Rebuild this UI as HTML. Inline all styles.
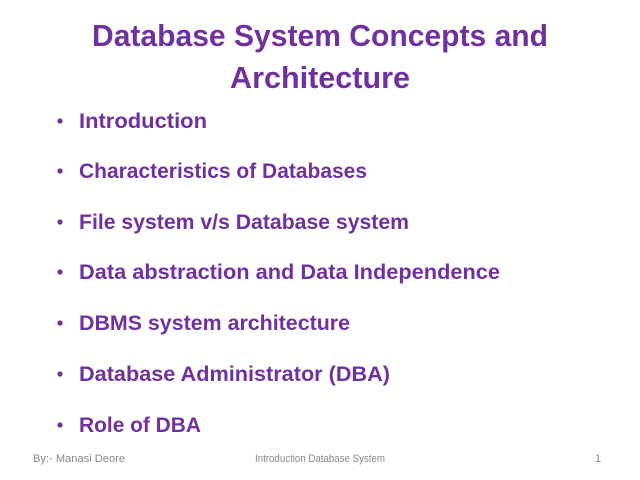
<!DOCTYPE html>
<html><head><style>
body{margin:0;background:#fff;}
svg{display:block;}
.t{font-family:"Liberation Sans",sans-serif;font-weight:bold;fill:#7030a0;}
.f{font-family:"Liberation Sans",sans-serif;fill:#898989;font-size:11px;}
</style></head><body>
<svg width="640" height="480" viewBox="0 0 640 480">
<text class="t" x="92" y="46" font-size="31" textLength="456" lengthAdjust="spacingAndGlyphs">Database System Concepts and</text>
<text class="t" x="230" y="88" font-size="31" textLength="180" lengthAdjust="spacingAndGlyphs">Architecture</text>
<g class="t" font-size="21">
<circle cx="60" cy="121" r="2.6" fill="#7030a0"/>
<text x="79" y="128" textLength="128" lengthAdjust="spacingAndGlyphs">Introduction</text>
<circle cx="60" cy="171" r="2.6" fill="#7030a0"/>
<text x="79" y="178" textLength="288" lengthAdjust="spacingAndGlyphs">Characteristics of Databases</text>
<circle cx="60" cy="222" r="2.6" fill="#7030a0"/>
<text x="79" y="229" textLength="330" lengthAdjust="spacingAndGlyphs">File system v/s Database system</text>
<circle cx="60" cy="272" r="2.6" fill="#7030a0"/>
<text x="79" y="279" textLength="421" lengthAdjust="spacingAndGlyphs">Data abstraction and Data Independence</text>
<circle cx="60" cy="323" r="2.6" fill="#7030a0"/>
<text x="79" y="330" textLength="271" lengthAdjust="spacingAndGlyphs">DBMS system architecture</text>
<circle cx="60" cy="374" r="2.6" fill="#7030a0"/>
<text x="79" y="381" textLength="311" lengthAdjust="spacingAndGlyphs">Database Administrator (DBA)</text>
<circle cx="60" cy="425" r="2.6" fill="#7030a0"/>
<text x="79" y="432" textLength="122" lengthAdjust="spacingAndGlyphs">Role of DBA</text>
</g>
<text class="f" x="33" y="462" textLength="92" lengthAdjust="spacingAndGlyphs">By:- Manasi Deore</text>
<text class="f" x="255" y="462" textLength="130" lengthAdjust="spacingAndGlyphs">Introduction Database System</text>
<text class="f" x="595" y="462">1</text>
</svg>
</body></html>
